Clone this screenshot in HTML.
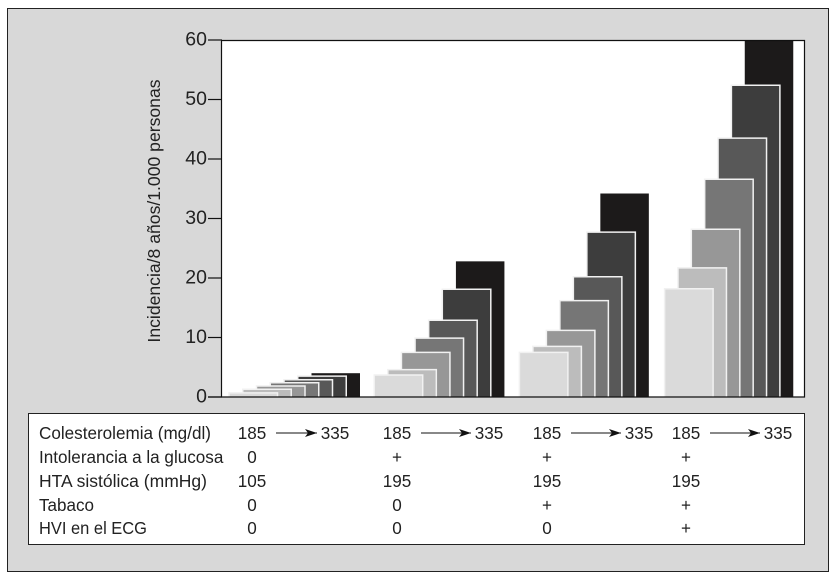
<!DOCTYPE html>
<html>
<head>
<meta charset="utf-8">
<title>Incidencia</title>
<style>
html,body{margin:0;padding:0;background:#fff;width:837px;height:582px;overflow:hidden}
svg{display:block}
text{font-family:"Liberation Sans",sans-serif;fill:#222}
.t{font-size:17.1px}
.c{font-size:17.1px;text-anchor:middle}
</style>
</head>
<body>
<svg id="chart" xmlns="http://www.w3.org/2000/svg" width="837" height="582" viewBox="0 0 837 582">
  <defs>
    <marker id="ah" markerWidth="13" markerHeight="9" refX="12" refY="4" orient="auto" markerUnits="userSpaceOnUse"><path d="M0 0L12 4L0 8L3 4Z" fill="#111"/></marker>
  </defs>
  <rect x="7.5" y="8.5" width="821" height="563" fill="#d8d8d8" stroke="#222"/>
  <rect x="221.5" y="40.5" width="583" height="356.5" fill="#fff" stroke="none"/>
  <g id="bars"></g>
  <g id="axes"></g>
  <text transform="translate(160,211) rotate(-90)" text-anchor="middle" style="font-size:17.6px">Incidencia/8 años/1.000 personas</text>

  <rect x="28.5" y="413.5" width="776" height="131" fill="#fff" stroke="#222"/>
  <g>
    <text class="t" x="39" y="439">Colesterolemia (mg/dl)</text>
    <text class="t" x="39" y="463">Intolerancia a la glucosa</text>
    <text class="t" x="39" y="487" textLength="168" lengthAdjust="spacingAndGlyphs">HTA sistólica (mmHg)</text>
    <text class="t" x="39" y="511" textLength="55" lengthAdjust="spacingAndGlyphs">Tabaco</text>
    <text class="t" x="39" y="534" textLength="108" lengthAdjust="spacingAndGlyphs">HVI en el ECG</text>
  </g>
  <g id="table-values"></g>
</svg>
<script>
// Chart data
const groupNames = ['perfil-1', 'perfil-2', 'perfil-3', 'perfil-4'];
const cholesterolLevels = ['185', '210', '235', '260', '285', '310', '335'];
const perfil1 = [0.7, 1.3, 1.85, 2.4, 2.9, 3.5, 4.0];
const perfil2 = [3.7, 4.6, 7.5, 9.9, 12.9, 18.1, 22.8];
const perfil3 = [7.5, 8.5, 11.2, 16.2, 20.2, 27.7, 34.2];
const perfil4 = [18.2, 21.7, 28.2, 36.6, 43.5, 52.4, 60];
const yTicks = [0, 10, 20, 30, 40, 50, 60];
const barColors = ['#dadada', '#bcbcbc', '#979797', '#767676', '#585858', '#3d3d3d', '#1c1a1a'];
const glucosaRow = ['0', '+', '+', '+'];
const htaRow = ['105', '195', '195', '195'];
const tabacoRow = ['0', '0', '+', '+'];
const hviRow = ['0', '0', '0', '+'];

const NS = 'http://www.w3.org/2000/svg';
const seriesByGroup = [perfil1, perfil2, perfil3, perfil4];

function yScale(v) { return 397 - v * (357 / 60); }
function xScale(g, b) { return 229 + g * 145.2 + b * (13.75 - 0.13 * g); }
function make(tag, attrs, parent) {
  const el = document.createElementNS(NS, tag);
  for (const k in attrs) el.setAttribute(k, attrs[k]);
  parent.appendChild(el);
  return el;
}

const barsG = document.getElementById('bars');
const barW = 48.5;
seriesByGroup.forEach(function (vals, g) {
  for (let b = vals.length - 1; b >= 0; b--) {
    const x = xScale(g, b), y = yScale(vals[b]);
    const bar = make('rect', { x: x, y: y, width: barW, height: 397 - y, fill: barColors[b] }, barsG);
    
    
    if (b < vals.length - 1) {
      const edge = make('path', { d: 'M' + x + ' 397V' + y + 'H' + (x + barW) + 'V397', fill: 'none', stroke: '#f1f1f1', 'stroke-width': 1.5 }, barsG);
      
      
    }
  }
});

const axesG = document.getElementById('axes');
const frame = make('path', { d: 'M221.5 40.5H804.5V397H208M221.5 40.5V397', fill: 'none', stroke: '#111', 'stroke-width': 1.2 }, axesG);


yTicks.forEach(function (t) {
  const y = yScale(t);
  const tick = make('line', { x1: 208, x2: 222, y1: y, y2: y, stroke: '#111', 'stroke-width': 1.2 }, axesG);
  
  
  const lab = make('text', { x: 207, y: y + 5.5, 'text-anchor': 'end', style: 'font-size:19.5px' }, axesG);
  
  
  lab.textContent = t;
});

const tv = document.getElementById('table-values');
function cell(x, y, s) {
  const el = make('text', { class: 'c', x: x, y: y }, tv);
  
  
  el.textContent = s;
}
function colX(g) { return [252, 397, 547, 686][g]; }
function endX(g) { return [335, 489, 639, 778][g]; }
groupNames.forEach(function (n, g) {
  cell(colX(g), 439, cholesterolLevels[0]);
  cell(endX(g), 439, cholesterolLevels[6]);
  const arrow = make('line', { x1: colX(g) + 24, x2: endX(g) - 18, y1: 433, y2: 433, stroke: '#111', 'stroke-width': 1, 'marker-end': 'url(#ah)' }, tv);
  
  
  cell(colX(g), 463, glucosaRow[g]);
  cell(colX(g), 487, htaRow[g]);
  cell(colX(g), 511, tabacoRow[g]);
  cell(colX(g), 534, hviRow[g]);
});
</script>
</body>
</html>
